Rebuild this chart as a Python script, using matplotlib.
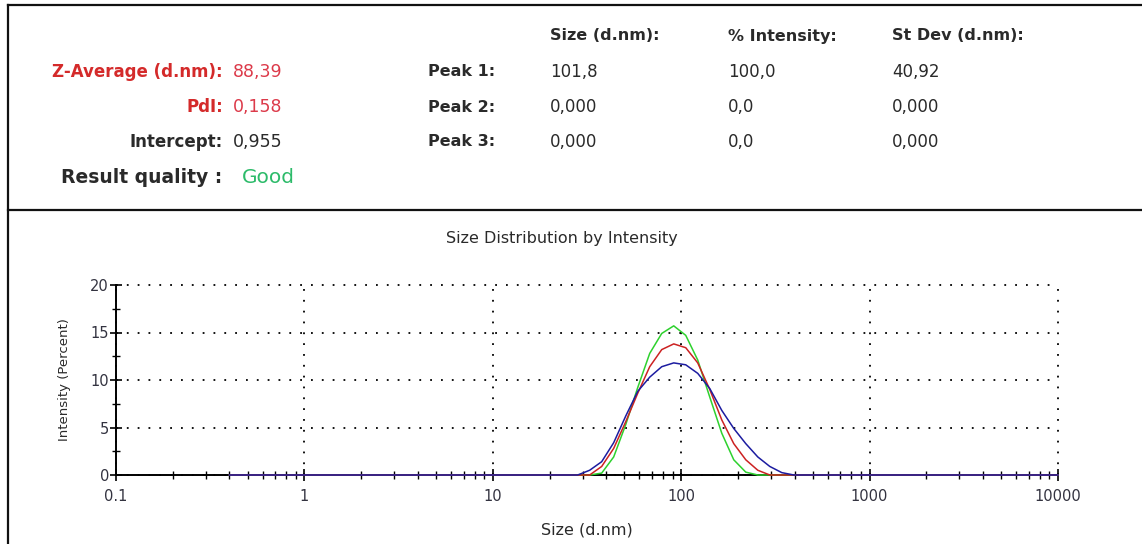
import matplotlib.pyplot as plt
from matplotlib.lines import Line2D
from matplotlib.ticker import FixedLocator, MultipleLocator, NullFormatter, LogLocator

W, H = 1142, 544

# size classes (d.nm), 70 log-spaced bins
sizes = [0.4, 0.4632, 0.5365, 0.6213, 0.7195, 0.8332, 0.9649, 1.117, 1.294, 1.499,
         1.736, 2.010, 2.328, 2.696, 3.122, 3.615, 4.187, 4.849, 5.615, 6.503,
         7.531, 8.721, 10.10, 11.70, 13.54, 15.69, 18.17, 21.04, 24.36, 28.21,
         32.67, 37.84, 43.82, 50.75, 58.77, 68.06, 78.82, 91.28, 105.7, 122.4,
         141.8, 164.2, 190.1, 220.2, 255.0, 295.3, 342.0, 396.1, 458.7, 531.2,
         615.1, 712.4, 825.0, 955.4, 1106, 1281, 1484, 1718, 1990, 2305,
         2669, 3091, 3580, 4145, 4801, 5560, 6439, 7456, 8635, 10000]

# intensity (%) per size class for the three runs
run_green = [0.0] * 31 + [0.2, 1.9, 5.3, 9.2, 12.8, 14.9, 15.7, 14.7, 12.1, 8.2,
                          4.4, 1.6, 0.3] + [0.0] * 26
run_red = [0.0] * 31 + [0.9, 2.8, 5.6, 8.6, 11.4, 13.2, 13.8, 13.4, 11.8, 9.0,
                        5.8, 3.3, 1.6, 0.5] + [0.0] * 25
run_blue = [0.0] * 30 + [0.5, 1.4, 3.4, 6.2, 8.8, 10.3, 11.4, 11.8, 11.6, 10.7,
                         9.1, 6.8, 4.9, 3.3, 1.9, 0.9, 0.25] + [0.0] * 23

x_ticks = [0.1, 1, 10, 100, 1000, 10000]
x_ticklabels = ["0.1", "1", "10", "100", "1000", "10000"]

summary_labels = ["Z-Average (d.nm):", "PdI:", "Intercept:"]
summary_values = ["88,39", "0,158", "0,955"]
peak_headers = ["Size (d.nm):", "% Intensity:", "St Dev (d.nm):"]
peak_names = ["Peak 1:", "Peak 2:", "Peak 3:"]
peak_values = [["101,8", "100,0", "40,92"],
               ["0,000", "0,0", "0,000"],
               ["0,000", "0,0", "0,000"]]
quality = "Good"

RED = "#d42a2a"
RED_VAL = "#dc3a4a"
TXT = "#2a2a2a"


def px(x, y):
    return x / W, 1 - y / H


def hline(fig, x0, x1, y, lw=1.6):
    fig.add_artist(Line2D([x0 / W, x1 / W], [1 - y / H, 1 - y / H],
                          transform=fig.transFigure, color="#111111", lw=lw))


def vline(fig, x, y0, y1, lw=1.6):
    fig.add_artist(Line2D([x / W, x / W], [1 - y0 / H, 1 - y1 / H],
                          transform=fig.transFigure, color="#111111", lw=lw))


def draw_header(fig):
    hline(fig, 8, W, 5)
    hline(fig, 8, W, 210)
    vline(fig, 8, 5, H)

    cols = [550, 728, 892]
    for x, t in zip(cols, peak_headers):
        fig.text(*px(x, 36), t, fontsize=11.5, fontweight="bold", color=TXT,
                 ha="left", va="center")

    rows = [72, 107, 142]
    colors = [RED, RED, TXT]
    val_colors = [RED_VAL, RED_VAL, TXT]
    for y, lab, val, c, vc in zip(rows, summary_labels, summary_values, colors, val_colors):
        fig.text(*px(223, y), lab, fontsize=12, fontweight="bold", color=c,
                 ha="right", va="center")
        fig.text(*px(233, y), val, fontsize=12.5, color=vc, ha="left", va="center")

    for y, name, vals in zip(rows, peak_names, peak_values):
        fig.text(*px(428, y), name, fontsize=11.5, fontweight="bold", color=TXT,
                 ha="left", va="center")
        for x, v in zip(cols, vals):
            fig.text(*px(x, y), v, fontsize=12, color=TXT, ha="left", va="center")

    fig.text(*px(222, 177), "Result quality :", fontsize=13.5, fontweight="bold",
             color=TXT, ha="right", va="center")
    fig.text(*px(242, 177), quality, fontsize=14.5, color="#2dbb6a",
             ha="left", va="center")


def draw_distribution(fig):
    fig.text(*px(562, 238), "Size Distribution by Intensity", fontsize=11.5,
             color=TXT, ha="center", va="center")

    ax = fig.add_axes([116 / W, 1 - 475 / H, (1058 - 116) / W, (475 - 285) / H])
    ax.set_xscale("log")

    ax.plot(sizes, run_green, color="#2ed12e", lw=1.1, zorder=3, clip_on=False)
    ax.plot(sizes, run_red, color="#cc2222", lw=1.1, zorder=3.1, clip_on=False)
    ax.plot(sizes, run_blue, color="#1c1ca0", lw=1.1, zorder=3.2, clip_on=False)

    ax.set_xlim(0.1, 10000)
    ax.set_ylim(0, 20)

    ax.xaxis.set_major_locator(FixedLocator(x_ticks))
    ax.set_xticklabels(x_ticklabels)
    ax.xaxis.set_minor_locator(LogLocator(base=10, subs=range(2, 10), numticks=20))
    ax.xaxis.set_minor_formatter(NullFormatter())
    ax.yaxis.set_major_locator(MultipleLocator(5))
    ax.yaxis.set_minor_locator(MultipleLocator(2.5))

    ax.tick_params(which="major", direction="inout", length=8, width=1.2,
                   color="black", labelcolor="#333340", labelsize=10.5)
    ax.tick_params(which="minor", direction="inout", length=6, width=1.0, color="black")
    ax.tick_params(axis="x", which="major", pad=6)
    ax.tick_params(axis="y", which="major", pad=1)

    for side in ("top", "right"):
        ax.spines[side].set_visible(False)
    for side in ("left", "bottom"):
        ax.spines[side].set_linewidth(1.4)
        ax.spines[side].set_color("black")

    ax.grid(which="major", color="black", linestyle=(0, (1, 5)), linewidth=1.3)
    for g in ax.get_xgridlines() + ax.get_ygridlines():
        g.set_clip_on(False)

    ax.set_xlabel("Size (d.nm)", fontsize=11.5, color=TXT)
    ax.xaxis.set_label_coords(0.5, -0.289)
    ax.xaxis.label.set_va("center")
    ax.set_ylabel("Intensity (Percent)", fontsize=9.5, color=TXT)
    ax.yaxis.set_label_coords(-0.0552, 0.5)
    ax.yaxis.label.set_va("center")
    return ax


def main():
    fig = plt.figure(figsize=(W / 100, H / 100), dpi=100)
    draw_header(fig)
    draw_distribution(fig)
    fig.savefig("out.png", dpi=100)


if __name__ == '__main__':
    main()
